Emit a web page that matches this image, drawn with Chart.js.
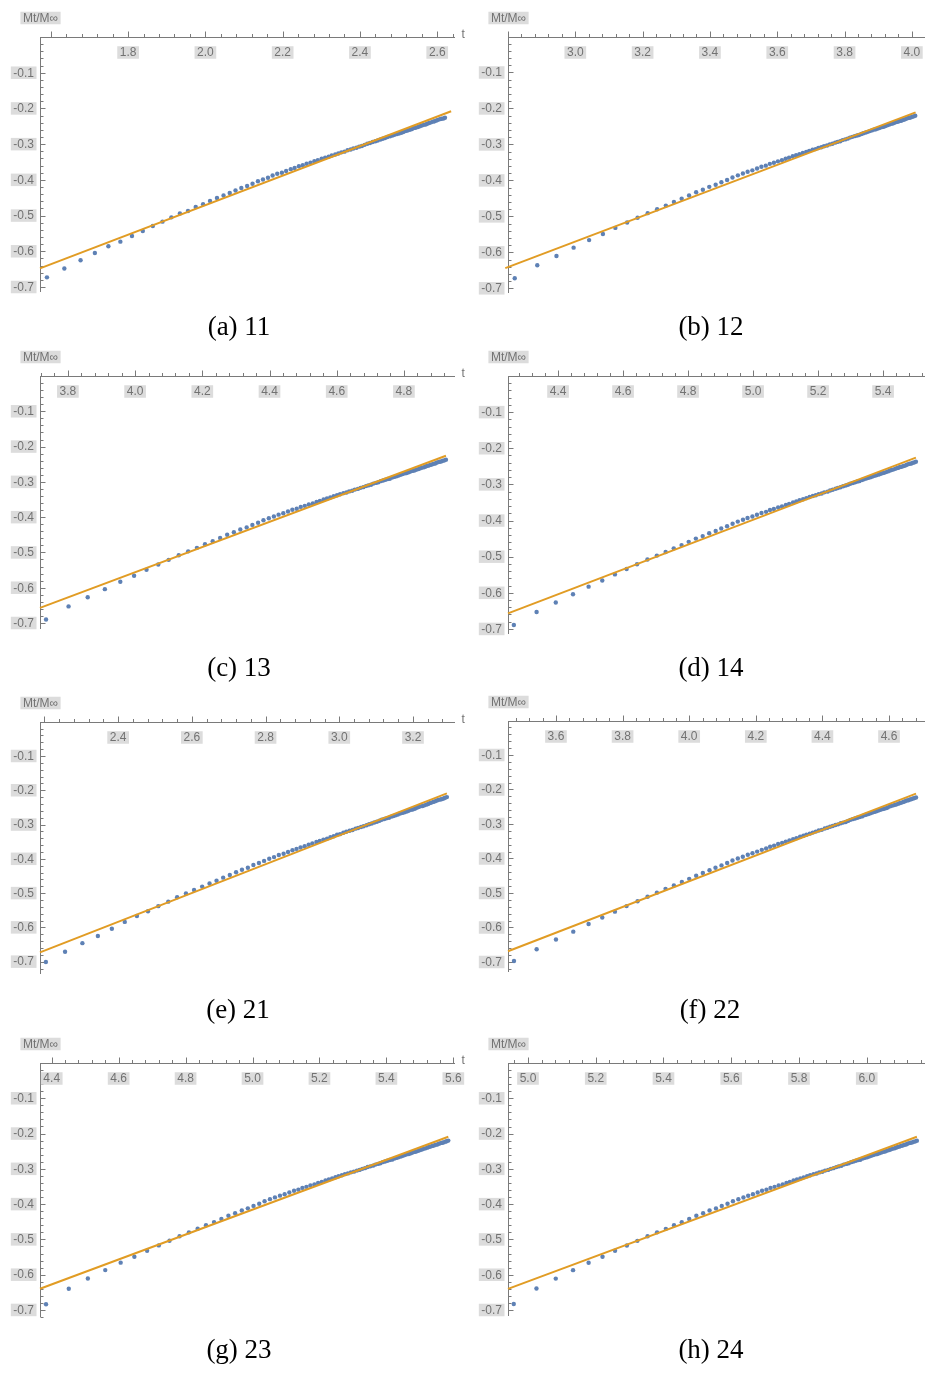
<!DOCTYPE html>
<html><head><meta charset="utf-8">
<script src="https://cdn.jsdelivr.net/npm/chart.js@4.4.1/dist/chart.umd.min.js"></script>
<style>
html,body{margin:0;padding:0;background:#fff;}
#wrap{position:relative;width:931px;height:1374px;overflow:hidden;background:#fff;}
#wrap canvas{position:absolute;}
.cap{position:absolute;font-family:"Liberation Serif","Times New Roman",serif;font-size:27px;line-height:normal;color:#000;transform:translate(-50%,-50%);white-space:nowrap;}
</style></head><body><div id="wrap"></div>
<script>
// ---------- data ----------
const yTickLabels = ['-0.1','-0.2','-0.3','-0.4','-0.5','-0.6','-0.7'];

const xTicksA = ['1.8','2.0','2.2','2.4','2.6'];
const xTicksB = ['3.0','3.2','3.4','3.6','3.8','4.0'];
const xTicksC = ['3.8','4.0','4.2','4.4','4.6','4.8'];
const xTicksD = ['4.4','4.6','4.8','5.0','5.2','5.4'];
const xTicksE = ['2.4','2.6','2.8','3.0','3.2'];
const xTicksF = ['3.6','3.8','4.0','4.2','4.4','4.6'];
const xTicksG = ['4.4','4.6','4.8','5.0','5.2','5.4','5.6'];
const xTicksH = ['5.0','5.2','5.4','5.6','5.8','6.0'];

const xA = [1.590,1.635,1.677,1.714,1.749,1.780,1.810,1.838,1.864,1.889,1.912,1.934,1.955,1.975,1.994,2.012,2.030,2.047,2.063,2.078,2.093,2.108,2.122,2.136,2.149,2.162,2.174,2.186,2.198,2.209,2.221,2.231,2.242,2.252,2.262,2.272,2.282,2.291,2.301,2.310,2.319,2.327,2.336,2.344,2.352,2.360,2.368,2.376,2.383,2.391,2.398,2.405,2.412,2.419,2.426,2.433,2.440,2.446,2.453,2.459,2.465,2.471,2.478,2.484,2.489,2.495,2.501,2.507,2.512,2.518,2.523,2.529,2.534,2.539,2.544,2.550,2.555,2.560,2.565,2.570,2.574,2.579,2.584,2.589,2.593,2.598,2.602,2.607,2.611,2.616,2.620];
const yA = [-0.673,-0.648,-0.625,-0.605,-0.586,-0.573,-0.557,-0.543,-0.529,-0.517,-0.505,-0.494,-0.487,-0.476,-0.468,-0.459,-0.451,-0.444,-0.437,-0.430,-0.423,-0.417,-0.411,-0.404,-0.399,-0.394,-0.388,-0.383,-0.380,-0.375,-0.370,-0.367,-0.362,-0.359,-0.355,-0.352,-0.348,-0.345,-0.341,-0.338,-0.335,-0.332,-0.329,-0.326,-0.323,-0.321,-0.317,-0.315,-0.312,-0.310,-0.307,-0.305,-0.302,-0.299,-0.297,-0.294,-0.292,-0.290,-0.287,-0.285,-0.283,-0.280,-0.278,-0.276,-0.274,-0.272,-0.270,-0.268,-0.266,-0.263,-0.262,-0.260,-0.258,-0.255,-0.254,-0.252,-0.250,-0.248,-0.246,-0.245,-0.243,-0.241,-0.239,-0.237,-0.236,-0.234,-0.232,-0.230,-0.229,-0.228,-0.226];

const xB = [2.820,2.887,2.944,2.995,3.041,3.082,3.119,3.154,3.185,3.215,3.243,3.269,3.293,3.316,3.338,3.359,3.379,3.398,3.417,3.434,3.451,3.467,3.483,3.498,3.512,3.526,3.540,3.553,3.566,3.578,3.590,3.602,3.614,3.625,3.635,3.646,3.656,3.666,3.676,3.686,3.695,3.705,3.714,3.722,3.731,3.739,3.748,3.756,3.764,3.772,3.779,3.787,3.794,3.802,3.809,3.816,3.823,3.830,3.837,3.843,3.850,3.856,3.863,3.869,3.875,3.881,3.887,3.893,3.899,3.904,3.910,3.916,3.921,3.927,3.932,3.937,3.943,3.948,3.953,3.958,3.963,3.968,3.973,3.978,3.982,3.987,3.992,3.996,4.001,4.006,4.010];
const yB = [-0.672,-0.636,-0.610,-0.587,-0.566,-0.549,-0.532,-0.517,-0.504,-0.491,-0.480,-0.470,-0.460,-0.451,-0.442,-0.433,-0.426,-0.418,-0.412,-0.405,-0.399,-0.392,-0.386,-0.381,-0.376,-0.372,-0.367,-0.362,-0.359,-0.354,-0.351,-0.347,-0.344,-0.340,-0.337,-0.333,-0.330,-0.327,-0.324,-0.321,-0.318,-0.315,-0.313,-0.310,-0.308,-0.305,-0.303,-0.300,-0.298,-0.295,-0.293,-0.291,-0.288,-0.286,-0.284,-0.281,-0.279,-0.277,-0.275,-0.274,-0.271,-0.269,-0.267,-0.265,-0.263,-0.261,-0.259,-0.258,-0.256,-0.254,-0.252,-0.251,-0.249,-0.247,-0.245,-0.243,-0.242,-0.240,-0.238,-0.237,-0.235,-0.234,-0.232,-0.231,-0.229,-0.227,-0.226,-0.225,-0.223,-0.222,-0.220];

const xC = [3.735,3.802,3.859,3.910,3.956,3.997,4.034,4.069,4.100,4.130,4.158,4.184,4.208,4.231,4.253,4.274,4.294,4.313,4.332,4.349,4.366,4.382,4.398,4.413,4.427,4.441,4.455,4.468,4.481,4.493,4.505,4.517,4.529,4.540,4.550,4.561,4.571,4.581,4.591,4.601,4.610,4.620,4.629,4.637,4.646,4.654,4.663,4.671,4.679,4.687,4.694,4.702,4.709,4.717,4.724,4.731,4.738,4.745,4.752,4.758,4.765,4.771,4.778,4.784,4.790,4.796,4.802,4.808,4.814,4.819,4.825,4.831,4.836,4.842,4.847,4.852,4.858,4.863,4.868,4.873,4.878,4.883,4.888,4.893,4.897,4.902,4.907,4.911,4.916,4.921,4.925];
const yC = [-0.690,-0.653,-0.627,-0.604,-0.583,-0.566,-0.549,-0.534,-0.521,-0.508,-0.497,-0.487,-0.477,-0.468,-0.459,-0.450,-0.443,-0.435,-0.429,-0.422,-0.416,-0.409,-0.403,-0.398,-0.393,-0.389,-0.384,-0.379,-0.376,-0.371,-0.368,-0.364,-0.361,-0.357,-0.354,-0.350,-0.347,-0.344,-0.341,-0.338,-0.335,-0.332,-0.330,-0.327,-0.325,-0.322,-0.320,-0.317,-0.315,-0.312,-0.310,-0.308,-0.305,-0.303,-0.301,-0.298,-0.296,-0.294,-0.292,-0.291,-0.288,-0.286,-0.284,-0.282,-0.280,-0.278,-0.276,-0.275,-0.273,-0.271,-0.269,-0.268,-0.266,-0.264,-0.262,-0.260,-0.259,-0.257,-0.255,-0.254,-0.252,-0.251,-0.249,-0.248,-0.246,-0.244,-0.243,-0.242,-0.240,-0.239,-0.237];

const xD = [4.264,4.334,4.393,4.446,4.494,4.536,4.575,4.611,4.643,4.675,4.704,4.731,4.756,4.780,4.802,4.824,4.845,4.865,4.885,4.902,4.920,4.937,4.953,4.969,4.983,4.998,5.012,5.026,5.040,5.052,5.064,5.077,5.089,5.101,5.111,5.123,5.133,5.143,5.154,5.164,5.174,5.184,5.193,5.202,5.211,5.219,5.229,5.237,5.245,5.254,5.261,5.269,5.277,5.285,5.292,5.299,5.307,5.314,5.321,5.327,5.335,5.341,5.348,5.354,5.361,5.367,5.373,5.379,5.386,5.391,5.397,5.403,5.409,5.415,5.420,5.425,5.431,5.437,5.442,5.447,5.452,5.457,5.463,5.468,5.472,5.477,5.482,5.487,5.492,5.497,5.501];
const yD = [-0.689,-0.653,-0.627,-0.604,-0.583,-0.566,-0.549,-0.534,-0.521,-0.508,-0.497,-0.487,-0.477,-0.468,-0.459,-0.450,-0.443,-0.435,-0.429,-0.422,-0.416,-0.409,-0.403,-0.398,-0.393,-0.389,-0.384,-0.379,-0.376,-0.371,-0.368,-0.364,-0.361,-0.357,-0.354,-0.350,-0.347,-0.344,-0.341,-0.338,-0.335,-0.332,-0.330,-0.327,-0.325,-0.322,-0.320,-0.317,-0.315,-0.312,-0.310,-0.308,-0.305,-0.303,-0.301,-0.298,-0.296,-0.294,-0.292,-0.291,-0.288,-0.286,-0.284,-0.282,-0.280,-0.278,-0.276,-0.275,-0.273,-0.271,-0.269,-0.268,-0.266,-0.264,-0.262,-0.260,-0.259,-0.257,-0.255,-0.254,-0.252,-0.251,-0.249,-0.248,-0.246,-0.244,-0.243,-0.242,-0.240,-0.239,-0.237];

const xE = [2.204,2.256,2.303,2.345,2.383,2.418,2.451,2.481,2.509,2.536,2.560,2.584,2.606,2.628,2.648,2.667,2.685,2.703,2.720,2.736,2.752,2.767,2.782,2.796,2.810,2.823,2.836,2.849,2.861,2.873,2.884,2.895,2.906,2.917,2.927,2.938,2.947,2.957,2.967,2.976,2.985,2.994,3.002,3.011,3.019,3.028,3.036,3.044,3.051,3.059,3.066,3.074,3.081,3.088,3.095,3.102,3.109,3.115,3.122,3.128,3.135,3.141,3.147,3.153,3.159,3.165,3.171,3.177,3.183,3.188,3.194,3.199,3.205,3.210,3.215,3.220,3.226,3.231,3.236,3.241,3.246,3.250,3.255,3.260,3.265,3.269,3.274,3.278,3.283,3.287,3.292];
const yE = [-0.701,-0.671,-0.646,-0.625,-0.604,-0.584,-0.567,-0.553,-0.538,-0.525,-0.512,-0.501,-0.491,-0.481,-0.472,-0.464,-0.455,-0.447,-0.439,-0.432,-0.426,-0.418,-0.412,-0.406,-0.400,-0.395,-0.389,-0.385,-0.380,-0.375,-0.371,-0.367,-0.363,-0.359,-0.355,-0.351,-0.348,-0.344,-0.341,-0.337,-0.334,-0.330,-0.328,-0.324,-0.321,-0.318,-0.316,-0.312,-0.310,-0.307,-0.305,-0.302,-0.299,-0.297,-0.294,-0.292,-0.289,-0.286,-0.284,-0.282,-0.280,-0.277,-0.275,-0.273,-0.271,-0.268,-0.266,-0.264,-0.262,-0.260,-0.257,-0.256,-0.254,-0.251,-0.249,-0.247,-0.246,-0.244,-0.242,-0.240,-0.237,-0.236,-0.234,-0.232,-0.230,-0.228,-0.227,-0.226,-0.224,-0.222,-0.220];

const xF = [3.474,3.542,3.600,3.652,3.698,3.739,3.777,3.812,3.845,3.875,3.903,3.929,3.954,3.978,4.000,4.021,4.041,4.061,4.079,4.097,4.114,4.130,4.146,4.161,4.176,4.190,4.204,4.218,4.231,4.243,4.255,4.267,4.279,4.290,4.301,4.312,4.322,4.333,4.343,4.352,4.362,4.371,4.380,4.389,4.398,4.407,4.415,4.423,4.431,4.439,4.447,4.455,4.462,4.470,4.477,4.484,4.491,4.498,4.505,4.512,4.519,4.525,4.531,4.538,4.544,4.550,4.556,4.562,4.568,4.574,4.580,4.585,4.591,4.596,4.602,4.607,4.613,4.618,4.623,4.628,4.633,4.638,4.643,4.648,4.653,4.658,4.663,4.667,4.672,4.676,4.681];
const yF = [-0.697,-0.663,-0.635,-0.612,-0.590,-0.571,-0.554,-0.538,-0.524,-0.511,-0.499,-0.488,-0.478,-0.468,-0.459,-0.450,-0.442,-0.434,-0.427,-0.420,-0.413,-0.406,-0.400,-0.395,-0.389,-0.385,-0.380,-0.375,-0.371,-0.366,-0.363,-0.358,-0.355,-0.351,-0.348,-0.344,-0.341,-0.337,-0.334,-0.331,-0.328,-0.325,-0.322,-0.319,-0.317,-0.313,-0.311,-0.308,-0.306,-0.303,-0.301,-0.298,-0.296,-0.294,-0.291,-0.288,-0.286,-0.284,-0.282,-0.280,-0.278,-0.275,-0.273,-0.271,-0.269,-0.267,-0.265,-0.263,-0.261,-0.259,-0.257,-0.256,-0.254,-0.252,-0.249,-0.247,-0.246,-0.244,-0.243,-0.241,-0.239,-0.238,-0.236,-0.234,-0.232,-0.231,-0.229,-0.228,-0.226,-0.225,-0.223];

const xG = [4.383,4.451,4.508,4.560,4.606,4.647,4.685,4.720,4.752,4.782,4.810,4.836,4.861,4.885,4.907,4.928,4.948,4.968,4.986,5.003,5.020,5.036,5.052,5.067,5.082,5.096,5.110,5.124,5.137,5.149,5.161,5.173,5.185,5.196,5.207,5.218,5.228,5.238,5.248,5.257,5.267,5.276,5.285,5.294,5.303,5.312,5.320,5.328,5.336,5.344,5.352,5.360,5.367,5.375,5.382,5.389,5.396,5.403,5.410,5.417,5.424,5.430,5.436,5.443,5.449,5.455,5.461,5.467,5.473,5.478,5.484,5.489,5.495,5.500,5.506,5.511,5.517,5.522,5.527,5.532,5.537,5.542,5.547,5.552,5.557,5.562,5.567,5.571,5.576,5.580,5.585];
const yG = [-0.684,-0.640,-0.611,-0.587,-0.566,-0.549,-0.532,-0.517,-0.504,-0.491,-0.480,-0.470,-0.460,-0.451,-0.442,-0.433,-0.426,-0.418,-0.412,-0.405,-0.399,-0.392,-0.386,-0.381,-0.376,-0.372,-0.367,-0.362,-0.359,-0.354,-0.351,-0.347,-0.344,-0.340,-0.337,-0.333,-0.330,-0.327,-0.324,-0.321,-0.318,-0.315,-0.313,-0.310,-0.308,-0.305,-0.303,-0.300,-0.298,-0.295,-0.293,-0.291,-0.288,-0.286,-0.284,-0.281,-0.279,-0.277,-0.275,-0.274,-0.271,-0.269,-0.267,-0.265,-0.263,-0.261,-0.259,-0.258,-0.256,-0.254,-0.252,-0.251,-0.249,-0.247,-0.245,-0.243,-0.242,-0.240,-0.238,-0.237,-0.235,-0.234,-0.232,-0.231,-0.229,-0.227,-0.226,-0.225,-0.223,-0.222,-0.220];

const xH = [4.958,5.025,5.082,5.133,5.179,5.220,5.257,5.292,5.323,5.353,5.381,5.407,5.431,5.454,5.476,5.497,5.517,5.536,5.555,5.572,5.589,5.605,5.621,5.636,5.650,5.664,5.678,5.691,5.704,5.716,5.728,5.740,5.752,5.763,5.773,5.784,5.794,5.804,5.814,5.824,5.833,5.843,5.852,5.860,5.869,5.877,5.886,5.894,5.902,5.910,5.917,5.925,5.932,5.940,5.947,5.954,5.961,5.968,5.975,5.981,5.988,5.994,6.001,6.007,6.013,6.019,6.025,6.031,6.037,6.042,6.048,6.054,6.059,6.065,6.070,6.075,6.081,6.086,6.091,6.096,6.101,6.106,6.111,6.116,6.120,6.125,6.130,6.134,6.139,6.144,6.148];
const yH = [-0.683,-0.639,-0.611,-0.587,-0.566,-0.549,-0.532,-0.517,-0.504,-0.491,-0.480,-0.470,-0.460,-0.451,-0.442,-0.433,-0.426,-0.418,-0.412,-0.405,-0.399,-0.392,-0.386,-0.381,-0.376,-0.372,-0.367,-0.362,-0.359,-0.354,-0.351,-0.347,-0.344,-0.340,-0.337,-0.333,-0.330,-0.327,-0.324,-0.321,-0.318,-0.315,-0.313,-0.310,-0.308,-0.305,-0.303,-0.300,-0.298,-0.295,-0.293,-0.291,-0.288,-0.286,-0.284,-0.281,-0.279,-0.277,-0.275,-0.274,-0.271,-0.269,-0.267,-0.265,-0.263,-0.261,-0.259,-0.258,-0.256,-0.254,-0.252,-0.251,-0.249,-0.247,-0.245,-0.243,-0.242,-0.240,-0.238,-0.237,-0.235,-0.234,-0.232,-0.231,-0.229,-0.227,-0.226,-0.225,-0.223,-0.222,-0.220];

// fitted lines (end points)
const fitXA = [1.572, 2.636], fitYA = [-0.648, -0.208];
const fitXB = [2.792, 4.011], fitYB = [-0.644, -0.211];
const fitXC = [3.717, 4.925], fitYC = [-0.657, -0.226];
const fitXD = [4.246, 5.501], fitYD = [-0.657, -0.226];
const fitXE = [2.188, 3.292], fitYE = [-0.673, -0.209];
const fitXF = [3.456, 4.681], fitYF = [-0.669, -0.212];
const fitXG = [4.365, 5.585], fitYG = [-0.640, -0.209];
const fitXH = [4.941, 6.148], fitYH = [-0.640, -0.209];

const captions = ['(a) 11','(b) 12','(c) 13','(d) 14','(e) 21','(f) 22','(g) 23','(h) 24'];

// ---------- layout ----------
const panels = [
  {cap:0, left:0,   top:0,    w:470, h:341, ca:[40,37,455,292],  xr:[1.572,2.646], ymin:-0.714, xs:xA, ys:yA, fx:fitXA, fy:fitYA, ticks:xTicksA, capPos:[239,326]},
  {cap:1, left:465, top:0,    w:466, h:341, ca:[43,36.5,460,293],xr:[2.800,4.039], ymin:-0.713, xs:xB, ys:yB, fx:fitXB, fy:fitYB, ticks:xTicksB, capPos:[711,326]},
  {cap:2, left:0,   top:341,  w:470, h:341, ca:[40,35,455,288],  xr:[3.717,4.952], ymin:-0.717, xs:xC, ys:yC, fx:fitXC, fy:fitYC, ticks:xTicksC, capPos:[239,667]},
  {cap:3, left:465, top:341,  w:466, h:341, ca:[43,35,460,293],  xr:[4.246,5.529], ymin:-0.714, xs:xD, ys:yD, fx:fitXD, fy:fitYD, ticks:xTicksD, capPos:[711,667]},
  {cap:4, left:0,   top:682,  w:470, h:341, ca:[40,39.7,455,292],xr:[2.188,3.314], ymin:-0.736, xs:xE, ys:yE, fx:fitXE, fy:fitYE, ticks:xTicksE, capPos:[238,1009]},
  {cap:5, left:465, top:682,  w:466, h:341, ca:[43,38.5,460,290],xr:[3.456,4.708], ymin:-0.729, xs:xF, ys:yF, fx:fitXF, fy:fitYF, ticks:xTicksF, capPos:[710,1009]},
  {cap:6, left:0,   top:1023, w:470, h:341, ca:[40,40,455,294],  xr:[4.365,5.605], ymin:-0.720, xs:xG, ys:yG, fx:fitXG, fy:fitYG, ticks:xTicksG, capPos:[239,1349]},
  {cap:7, left:465, top:1023, w:466, h:341, ca:[43,40,460,293],  xr:[4.941,6.172], ymin:-0.717, xs:xH, ys:yH, fx:fitXH, fy:fitYH, ticks:xTicksH, capPos:[711,1349]}
];

const AXIS = '#7a7a7a', LBL_BG = '#dcdcdc', LBL_FG = '#727272';
const FONT = '12px "Liberation Sans", Arial, sans-serif';

function boxLabel(ctx, text, x, y, align, bg) {
  const w = ctx.measureText(text).width, px = 2.5, h = 12.5;
  let l = align === 'right' ? x - w - 2 * px : (align === 'center' ? x - w / 2 - px : x);
  if (bg) { ctx.fillStyle = LBL_BG; ctx.fillRect(l, y - h / 2, w + 2 * px, h); }
  ctx.fillStyle = LBL_FG;
  ctx.textAlign = 'left';
  ctx.fillText(text, l + px, y + 0.5);
}

const mmaAxes = {
  id: 'mmaAxes',
  beforeDatasetsDraw(chart) {
    const ctx = chart.ctx, ca = chart.chartArea;
    const xs = chart.scales.x, ys = chart.scales.y;
    const ticks = chart.options.plugins.mmaAxes.ticks;
    const y0 = Math.round(ys.getPixelForValue(0)) + 0.5;
    const x0 = Math.round(ca.left) + 0.5;
    ctx.save();
    ctx.strokeStyle = AXIS; ctx.lineWidth = 1;
    ctx.beginPath();
    ctx.moveTo(ca.left, y0); ctx.lineTo(ca.right, y0);
    ctx.moveTo(x0, y0); ctx.lineTo(x0, ca.bottom);
    const k0 = Math.ceil(xs.min / 0.04 - 1e-6), k1 = Math.floor(xs.max / 0.04 + 1e-6);
    for (let k = k0; k <= k1; k++) {
      const p = Math.round(xs.getPixelForValue(k * 0.04)) + 0.5;
      const len = (k % 5 === 0) ? 6 : 3.5;
      ctx.moveTo(p, y0); ctx.lineTo(p, y0 - len);
    }
    const j0 = Math.ceil(ys.min / 0.02 - 1e-6);
    for (let j = j0; j < 0; j++) {
      const p = Math.round(ys.getPixelForValue(j * 0.02)) + 0.5;
      const len = (j % 5 === 0) ? 5 : 3;
      ctx.moveTo(x0, p); ctx.lineTo(x0 + len, p);
    }
    ctx.stroke();
    ctx.font = FONT; ctx.textBaseline = 'middle';
    ticks.forEach(t => boxLabel(ctx, t, xs.getPixelForValue(parseFloat(t)), y0 + 15, 'center', true));
    yTickLabels.forEach(t => boxLabel(ctx, t, x0 - 4, ys.getPixelForValue(parseFloat(t)), 'right', true));
    boxLabel(ctx, 'Mt/M\u221e', x0, y0 - 19.5, 'center', true);
    boxLabel(ctx, 't', ca.right + 4, y0 - 3, 'left', false);
    ctx.restore();
  }
};

const wrap = document.getElementById('wrap');
panels.forEach(P => {
  const c = document.createElement('canvas');
  c.width = P.w; c.height = P.h;
  c.style.left = P.left + 'px'; c.style.top = P.top + 'px';
  c.style.width = P.w + 'px'; c.style.height = P.h + 'px';
  wrap.appendChild(c);
  new Chart(c, {
    type: 'scatter',
    data: { datasets: [
      { type: 'line', data: P.fx.map((v, i) => ({x: v, y: P.fy[i]})), borderColor: '#E19C24', borderWidth: 2,
        pointRadius: 0, fill: false, order: 0, clip: false },
      { type: 'scatter', data: P.xs.map((v, i) => ({x: v, y: P.ys[i]})), pointRadius: 2.2,
        pointBackgroundColor: '#5E81B5', pointBorderWidth: 0, order: 1, clip: false }
    ]},
    options: {
      responsive: false, animation: false, devicePixelRatio: 1, events: [],
      layout: { padding: { left: P.ca[0], top: P.ca[1], right: P.w - P.ca[2], bottom: P.h - P.ca[3] } },
      scales: {
        x: { type: 'linear', min: P.xr[0], max: P.xr[1], display: false },
        y: { type: 'linear', min: P.ymin, max: 0, display: false }
      },
      plugins: { legend: { display: false }, tooltip: { enabled: false }, mmaAxes: { ticks: P.ticks } }
    },
    plugins: [mmaAxes]
  });
  const d = document.createElement('div');
  d.className = 'cap'; d.textContent = captions[P.cap];
  d.style.left = P.capPos[0] + 'px'; d.style.top = P.capPos[1] + 'px';
  wrap.appendChild(d);
});
</script></body></html>
